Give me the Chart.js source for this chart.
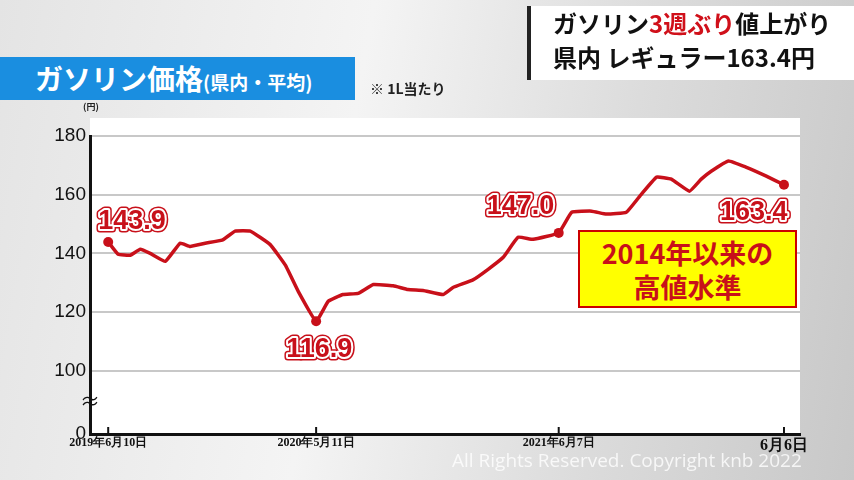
<!DOCTYPE html>
<html><head><meta charset="utf-8">
<script src="https://cdn.jsdelivr.net/npm/chart.js@4"></script>
<style>
body{margin:0;width:854px;height:480px;overflow:hidden;font-family:"Noto Sans CJK JP",sans-serif;
 background:linear-gradient(100deg,#e4e4e4 0%,#f4f4f4 40%,#dcdcdc 70%,#c8c8c8 100%);position:relative}
#c{position:absolute;left:0;top:0}
.abs{position:absolute}
#head{left:527px;top:6px;width:327px;height:74px;background:#fff;border-left:4px solid #222;box-sizing:border-box;font-weight:bold;font-size:24px;line-height:34px;padding-left:22px;color:#111}
#title{left:0;top:57px;width:355px;height:43px;background:#1a8ee0;color:#fff;font-weight:bold;font-size:28px;line-height:43px;padding-left:35px;box-sizing:border-box}
#note{left:370px;top:78px;font-size:14px;font-weight:bold;color:#222}
#yen{left:83px;top:100px;font-size:9px;color:#222;font-weight:bold}
#box{left:578px;top:230px;width:219px;height:78px;background:#ffff00;border:2px solid #c00;box-sizing:border-box;color:#c8101a;font-weight:bold;font-size:27px;line-height:34px;text-align:center;padding-top:4px}
#wm{left:452px;top:447px;font-family:"Open Sans";font-size:19px;color:rgba(255,255,255,.8)}
#br{left:80px;top:386px;font-size:20px;color:#111}
</style></head><body>
<canvas id="c" width="854" height="480"></canvas>
<div id="head" class="abs">ガソリン<span style="color:#d0101a">3週ぶり</span>値上がり<br>県内 レギュラー163.4円</div>
<div id="title" class="abs">ガソリン価格<span style="font-size:19px">(県内・平均)</span></div>
<div id="note" class="abs">※ 1L当たり</div>
<div id="yen" class="abs">(円)</div>
<div id="box" class="abs">2014年以来の<br>高値水準</div>
<div id="br" class="abs">≈</div>
<div id="wm" class="abs">All Rights Reserved. Copyright knb 2022</div>
<script>
// weeks since 2019-06-10
const weeks = [0,2.3,5.1,7.4,9.7,13.2,16.6,18.9,22.4,26.3,29.3,32.8,37.4,40.9,43.9,48,50.8,54.2,57.7,61.2,65.8,69.2,72.7,77.3,79.6,84.2,87.7,91.2,94.6,98.1,104,107,111.6,115,119.6,123.1,126.6,130,134.2,136.9,139.2,143.2,147.2,151.8,156];
const prices = [143.9,139.7,139.4,141.4,140,137.3,143.5,142.4,143.5,144.5,147.6,147.6,143,136,127,116.9,123.7,126,126.4,129.4,129,127.7,127.4,126,128.4,131,134.6,138.7,145.5,144.8,147.0,154,154.4,153.4,154,160.2,166,165.3,161.2,165.3,168,171.5,169.4,166.4,163.4];
const tickWeeks = [0,48,104,156];
const tickNames = ['2019年6月10日','2020年5月11日','2021年6月7日','6月6日'];
const yTicks = [78.5,100,120,140,160,180];
const labelled = [0,15,30,44];

const bgPlugin = {
  id:'bg',
  beforeDraw(c){const a=c.chartArea,x=c.ctx;x.save();x.fillStyle='#fff';x.fillRect(a.left,a.top-18,a.right-a.left,a.bottom-a.top+18);x.restore();}
};
const lblPlugin = {
  id:'lbl',
  afterDatasetsDraw(c){
    const x=c.ctx,m=c.getDatasetMeta(0);
    const off=[[-10,-20],[-30,28],[-72,-26],[-64,28]];
    x.save();x.font='bold 27px Arial';x.textBaseline='middle';x.lineJoin='round';
    labelled.forEach((i,k)=>{
      const p=m.data[i],t=prices[i].toFixed(1),tx=p.x+off[k][0],ty=p.y+off[k][1];
      x.strokeStyle='#c8101a';x.lineWidth=7;x.strokeText(t,tx,ty);
      x.strokeStyle='#fff';x.lineWidth=4;x.strokeText(t,tx,ty);
      x.fillStyle='#c8101a';x.fillText(t,tx,ty);
    });
    const xs=c.scales.x;x.strokeStyle='#111';x.lineWidth=2;
    tickWeeks.forEach(w=>{const px=xs.getPixelForValue(w);x.beginPath();x.moveTo(px,c.chartArea.bottom);x.lineTo(px,c.chartArea.bottom-7);x.stroke();});
    x.restore();
  }
};

new Chart(document.getElementById('c'),{
  type:'line',
  data:{datasets:[{data:weeks.map((w,i)=>({x:w,y:prices[i]})),borderColor:'#c8101a',borderWidth:3.5,tension:0.1,
    pointRadius:weeks.map((w,i)=>labelled.includes(i)?5:0),pointBackgroundColor:'#c8101a',pointBorderWidth:0}]},
  options:{responsive:false,animation:false,
    layout:{padding:{left:50,right:54,top:136,bottom:16}},
    plugins:{legend:{display:false},tooltip:{enabled:false}},
    scales:{
      x:{type:'linear',min:-4.2,max:159.7,
        afterBuildTicks:s=>{s.ticks=tickWeeks.map(v=>({value:v}));},
        afterFit:s=>{s.height=30;},
        ticks:{autoSkip:false,maxRotation:0,color:'#111',padding:0,
          font:c=>({size:c.tick&&c.tick.value===156?16:12,family:'Liberation Sans Narrow',weight:'bold'}),
          callback:(v)=>tickNames[tickWeeks.indexOf(v)]},
        grid:{display:false,tickLength:2},border:{color:'#111',width:3}},
      y:{min:78.5,max:180,
        afterBuildTicks:s=>{s.ticks=yTicks.map(v=>({value:v}));},
        afterFit:s=>{s.width=40;},
        ticks:{color:'#111',font:{size:19},padding:4,callback:v=>v===78.5?'0':v},
        grid:{color:c=>c.tick&&c.tick.value===78.5?'rgba(0,0,0,0)':'#c8c8c8',lineWidth:2,drawTicks:false},
        border:{color:'#111',width:3}}
    }},
  plugins:[bgPlugin,lblPlugin]
});
</script>
</body></html>
